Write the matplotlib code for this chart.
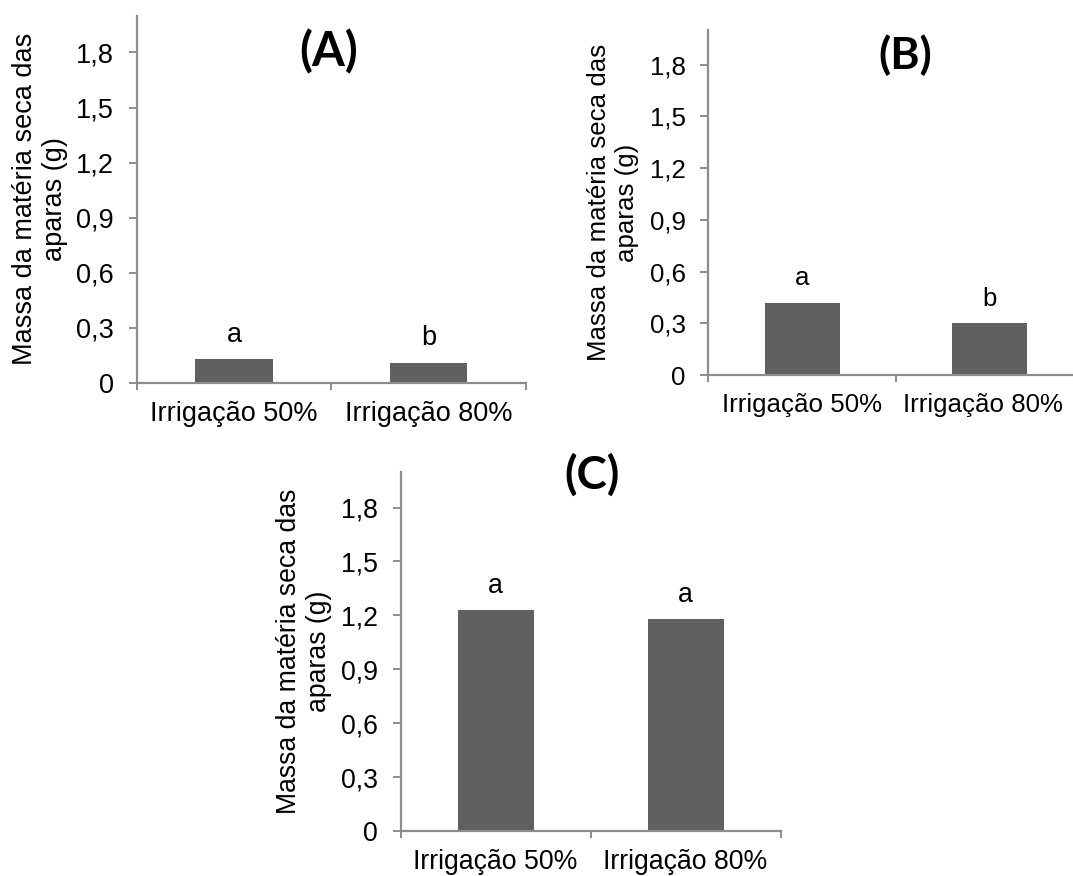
import matplotlib.pyplot as plt
from matplotlib.ticker import FixedLocator, FixedFormatter
from matplotlib.transforms import ScaledTranslation

plt.rcParams['font.family'] = ['Liberation Sans', 'DejaVu Sans']

# Massa seca das aparas por tratamento de irrigação
categorias = ['Irrigação 50%', 'Irrigação 80%']
massa_a = [0.13, 0.11]
massa_b = [0.42, 0.30]
massa_c = [1.23, 1.18]
letras_a = ['a', 'b']
letras_b = ['a', 'b']
letras_c = ['a', 'a']
yticks = [0, 0.3, 0.6, 0.9, 1.2, 1.5, 1.8]
ytick_labels = ['0', '0,3', '0,6', '0,9', '1,2', '1,5', '1,8']
ylabel = 'Massa da matéria seca das\naparas (g)'

cor_barra = '#606060'
cor_eixo = '#8c8c8c'

fig = plt.figure(figsize=(10.73, 8.76), dpi=100)


def painel(rect, valores, letras, titulo, titulo_xy, fs=19.5, fs_titulo=34,
           desloc_rotulos=(0, 0)):
    ax = fig.add_axes(rect)
    x = [i + 0.5 for i in range(len(valores))]
    ax.bar(x, valores, width=0.4, color=cor_barra, zorder=2)

    # letras de significância acima das barras
    for xi, v, l in zip(x, valores, letras):
        ax.annotate(l, (xi, v), xytext=(0, 12.5), textcoords='offset points',
                    ha='center', va='baseline', fontsize=fs)

    ax.set_xlim(0, len(valores))
    ax.set_ylim(0, 2.0)
    for s in ['top', 'right']:
        ax.spines[s].set_visible(False)
    for s in ['left', 'bottom']:
        ax.spines[s].set_color(cor_eixo)
        ax.spines[s].set_linewidth(1.6)

    ax.set_yticks(yticks)
    ax.set_yticklabels(ytick_labels, fontsize=fs)
    ax.tick_params(axis='y', direction='out', length=5.8, width=1.4,
                   color=cor_eixo, pad=10.5)

    # marcas nos limites das categorias, rótulos no centro
    ax.xaxis.set_major_locator(FixedLocator(range(len(valores) + 1)))
    ax.xaxis.set_major_formatter(FixedFormatter([''] * (len(valores) + 1)))
    ax.xaxis.set_minor_locator(FixedLocator(x))
    ax.xaxis.set_minor_formatter(FixedFormatter(categorias))
    ax.tick_params(axis='x', which='major', direction='out', length=5.2,
                   width=1.4, color=cor_eixo)
    ax.tick_params(axis='x', which='minor', length=0, pad=13, labelsize=fs)

    # rótulo que não cabe na borda é puxado para dentro
    for tick, dx in zip(ax.xaxis.get_minor_ticks(len(x)), desloc_rotulos):
        if dx:
            lbl = tick.label1
            lbl.set_transform(lbl.get_transform() +
                              ScaledTranslation(dx / 72, 0, fig.dpi_scale_trans))

    ax.set_ylabel(ylabel, fontsize=fs)
    largura_px = rect[2] * fig.get_figwidth() * fig.dpi
    ax.yaxis.set_label_coords(-69 / largura_px, 0.5)

    ax.text(titulo_xy[0], titulo_xy[1], titulo, transform=ax.transAxes,
            ha='center', va='center', fontsize=fs_titulo, fontweight='bold',
            family=['Lato', 'DejaVu Sans'])
    return ax


painel([0.1274, 0.5628, 0.3625, 0.4193], massa_a, letras_a, '(A)', (0.494, 0.902))
painel([0.6601, 0.5719, 0.3495, 0.3938], massa_b, letras_b, '(B)', (0.525, 0.928),
       fs=18.6, fs_titulo=32, desloc_rotulos=(0, -5))
painel([0.3734, 0.0514, 0.3541, 0.4102], massa_c, letras_c, '(C)', (0.505, 0.992),
       fs=19.2, fs_titulo=33)

fig.savefig('out.png', dpi=100)
